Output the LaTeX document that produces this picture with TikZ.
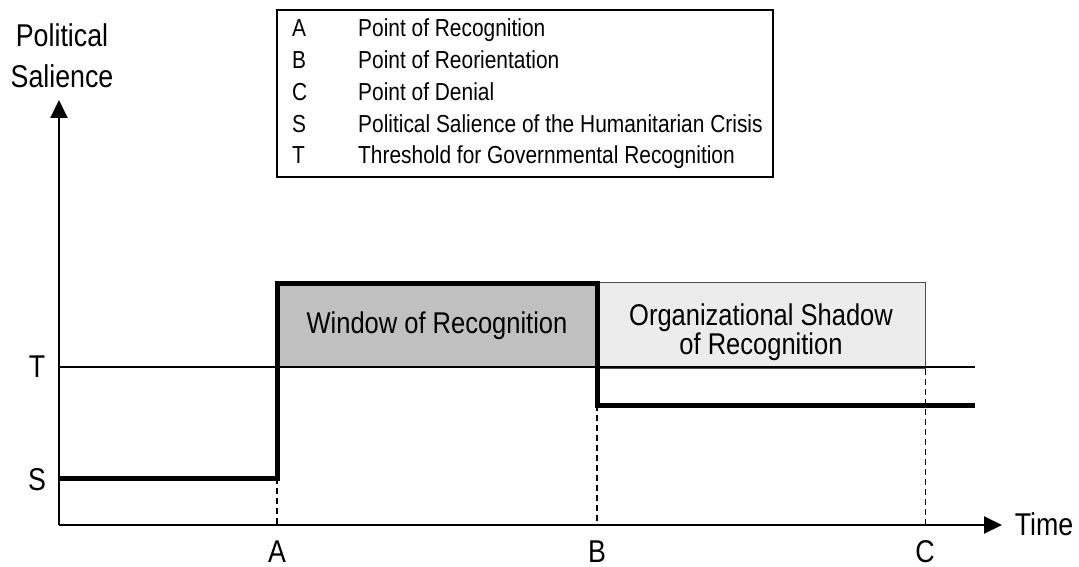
\documentclass[tikz,border=0pt]{standalone}
\usepackage{fontspec}
\setmainfont{Liberation Sans}[FakeStretch=0.85]
\usepackage{tikz}
\usetikzlibrary{arrows.meta, positioning}
\definecolor{windowgray}{HTML}{C0C0C0}
\definecolor{shadowgray}{HTML}{ECECEC}
\tikzstyle{axisline} = [line width=2pt, -{Triangle[length=18pt, width=17pt]}]
\tikzstyle{salience} = [line width=5pt, line join=miter]
\tikzstyle{threshold} = [line width=1.8pt]
\tikzstyle{dropline} = [line width=1.5pt, dash pattern=on 6pt off 4pt]
\tikzstyle{axislabel} = [font=\fontsize{31.5}{41}\selectfont, inner sep=0pt]
\tikzstyle{legendrow} = [font=\fontsize{24.6}{29}\selectfont, inner sep=0pt, anchor=base west]
\tikzstyle{boxtext} = [font=\fontsize{30}{29}\selectfont, inner sep=0pt]
\tikzstyle{windowbox} = [rectangle, fill=windowgray, minimum width=320pt, minimum height=85pt, inner sep=0pt, boxtext]
\tikzstyle{shadowbox} = [rectangle, fill=shadowgray, draw=black!70, line width=1pt, minimum width=328pt, minimum height=86pt, inner sep=0pt]

\begin{document}
\begin{tikzpicture}[x=1pt, y=-1pt]
		\useasboundingbox (0,0) rectangle (1079,567);
		% legend
		\node (legend)[draw, line width=1.5pt, minimum width=496pt, minimum height=167pt] at (525,93.5) {};
		\node (keyA)[legendrow] at (292,36.5) {A};
		\node (textA)[legendrow] at (358,36.5) {Point of Recognition};
		\node (keyB)[legendrow] at (292,68.4) {B};
		\node (textB)[legendrow] at (358,68.4) {Point of Reorientation};
		\node (keyC)[legendrow] at (292,100.3) {C};
		\node (textC)[legendrow] at (358,100.3) {Point of Denial};
		\node (keyS)[legendrow] at (292,132.1) {S};
		\node (textS)[legendrow] at (358,132.1) {Political Salience of the Humanitarian Crisis};
		\node (keyT)[legendrow] at (292,164) {T};
		\node (textT)[legendrow] at (358,164) {Threshold for Governmental Recognition};
		% windows
		\node (window)[windowbox] at (437,325.5) {Window of Recognition};
		\node (shadow)[shadowbox] at (761,325) {};
		\node (shadowtext)[boxtext, align=center] at ([yshift=-7pt]shadow.center) {Organizational Shadow\\of Recognition};
		% axes
		\coordinate (O) at (59,525);
		\coordinate (ytip) at (59,100);
		\coordinate (xtip) at (1002,525);
		\coordinate (Tstart) at (59,367);
		\coordinate (Tend) at (975,367);
		\coordinate (start) at (59,478);
		\coordinate (A) at (277,478);
		\coordinate (Atop) at (277,283);
		\coordinate (Btop) at (597,283);
		\coordinate (B) at (597,405);
		\coordinate (end) at (975,405);
		\coordinate (C) at (shadow.south east);
		\draw [threshold] (Tstart) -- (Tend);
		\draw [salience] (start) -- (A) -- (Atop) -- (Btop) -- (B) -- (end);
		\draw [dropline] (A) -- (A |- O);
		\draw [dropline] (B) -- (B |- O);
		\draw [dropline] (C) -- (C |- O);
		\draw [axisline] (O) -- (ytip);
		\draw [axisline] (O) -- (xtip);
		% labels
		\node (ylabel)[axislabel, align=center] at (62,56) {Political\\Salience};
		\node (xlabel)[axislabel] at (1044,524) {Time};
		\node (labelT)[axislabel] at (37,367) {T};
		\node (labelS)[axislabel] at (37,480) {S};
		\node (labelA)[axislabel] at (277,552) {A};
		\node (labelB)[axislabel] at (597,552) {B};
		\node (labelC)[axislabel] at (925,552) {C};
	\end{tikzpicture}
\end{document}
